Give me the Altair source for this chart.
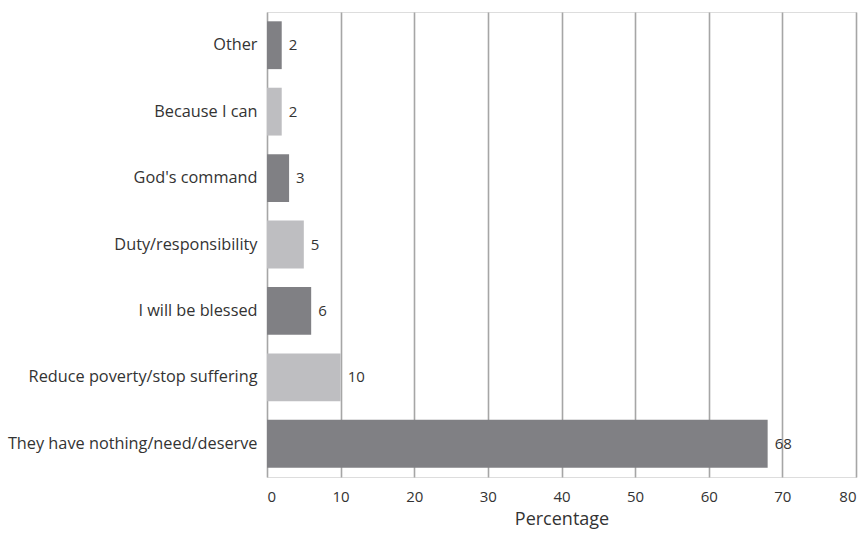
import altair as alt
import pandas as pd

# Reasons given, top to bottom, with their shares (%)
reasons = [
    "Other",
    "Because I can",
    "God's command",
    "Duty/responsibility",
    "I will be blessed",
    "Reduce poverty/stop suffering",
    "They have nothing/need/deserve",
]
percentages = [2, 2, 3, 5, 6, 10, 68]
shades = ["dark", "light", "dark", "light", "dark", "light", "dark"]

df = pd.DataFrame({"reason": reasons, "pct": percentages, "shade": shades})

FONT = "Open Sans"
TEXT = "#333333"

y_enc = alt.Y(
    "reason:N",
    sort=reasons,
    title=None,
    scale=alt.Scale(paddingInner=0.28, paddingOuter=0.14),
    axis=alt.Axis(
        ticks=False,
        domain=False,
        labelPadding=10,
        labelFontSize=16.3,
        labelFont=FONT,
        labelColor=TEXT,
        labelLimit=400,
    ),
)

x_enc = alt.X(
    "pct:Q",
    title="Percentage",
    scale=alt.Scale(domain=[0, 80], nice=False),
    axis=alt.Axis(
        values=list(range(0, 81, 10)),
        ticks=False,
        domain=False,
        grid=True,
        gridColor="#a6a6a6",
        gridWidth=1.6,
        labelPadding=12,
        labelFontSize=15,
        labelFont=FONT,
        labelColor=TEXT,
        titleFont=FONT,
        titleFontSize=18,
        titleFontWeight="normal",
        titleColor=TEXT,
        titlePadding=6,
    ),
)

bars = alt.Chart(df).mark_bar().encode(
    x=x_enc,
    y=y_enc,
    color=alt.Color(
        "shade:N",
        scale=alt.Scale(domain=["dark", "light"], range=["#808084", "#bebec1"]),
        legend=None,
    ),
)

labels = alt.Chart(df).mark_text(
    align="left", baseline="middle", dx=7, fontSize=15, font=FONT, color=TEXT
).encode(
    x="pct:Q",
    y=alt.Y("reason:N", sort=reasons),
    text="pct:Q",
)

chart = (
    alt.layer(bars, labels)
    .properties(
        width=589,
        height=465,
        autosize=alt.AutoSizeParams(type="none"),
        padding={"left": 267, "top": 12, "right": 9, "bottom": 58},
    )
    .configure_view(stroke="#a6a6a6", strokeWidth=2)
    .configure(background="white")
)

chart.save("out.html", embed_options={"renderer": "svg", "actions": False})
